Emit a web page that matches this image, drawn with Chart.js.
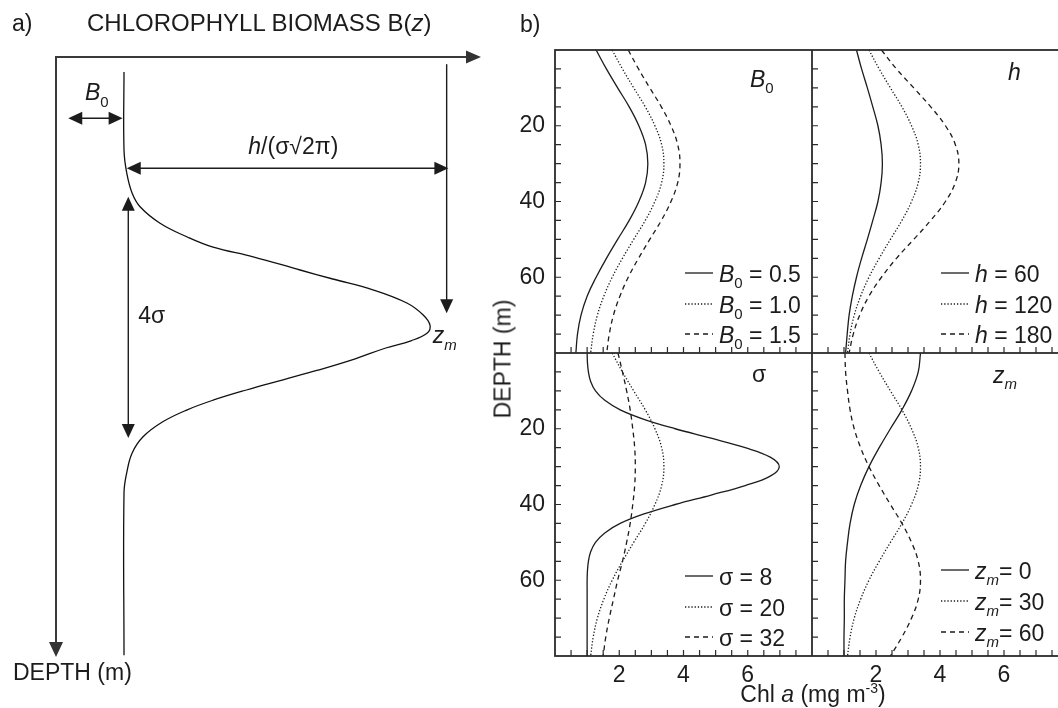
<!DOCTYPE html>
<html>
<head>
<meta charset="utf-8">
<script src="https://cdn.jsdelivr.net/npm/chart.js@4.4.1/dist/chart.umd.min.js"></script>
<style>
  body { margin: 0; background: #fff; }
  #page { position: relative; width: 1058px; height: 708px; overflow: hidden;
          font-family: "Liberation Sans", Arial, Helvetica, sans-serif; color: #1c1c1c; }
  canvas { position: absolute; }
  .lbl { position: absolute; font-size: 23px; line-height: 23px; white-space: nowrap; }
  .lbl sup { font-size: 14px; line-height: 0; vertical-align: 9px; }
</style>
</head>
<body>
<div id="page">
  <canvas id="sketch" width="490" height="708" style="left:0;top:0"></canvas>
  <canvas id="panelB0" width="317" height="313" style="left:495px;top:40px"></canvas>
  <canvas id="panelH" width="256" height="313" style="left:812px;top:40px"></canvas>
  <canvas id="panelSigma" width="317" height="353" style="left:495px;top:353px"></canvas>
  <canvas id="panelZm" width="256" height="353" style="left:812px;top:353px"></canvas>

  <div class="lbl" style="left:12px;top:12px">a)</div>
  <div class="lbl" style="left:87px;top:11px;font-size:24px">CHLOROPHYLL BIOMASS B(<i>z</i>)</div>
  <div class="lbl" style="left:13px;top:661px">DEPTH (m)</div>
  <div class="lbl" style="left:520px;top:13px">b)</div>
  <div class="lbl" style="left:503px;top:359px;transform:translate(-50%,-50%) rotate(-90deg)">DEPTH (m)</div>
  <div class="lbl" style="left:813px;top:683px;transform:translateX(-50%)">Chl <i>a</i> (mg m<sup>-3</sup>)</div>
</div>

<script>
const FONT = '"Liberation Sans", Arial, Helvetica, sans-serif';
const INK = '#1c1c1c';

// depth grid (m); the narrow sigma = 8 peak needs a finer one
const depths = [0, 5, 10, 15, 20, 25, 30, 35, 40, 45, 50, 55, 60, 65, 70, 75, 80];
const depthsFine = [0, 2.5, 5, 7.5, 10, 12.5, 15, 17.5, 20, 22.5, 25, 27.5, 30, 32.5, 35, 37.5, 40,
  42.5, 45, 47.5, 50, 52.5, 55, 57.5, 60, 62.5, 65, 67.5, 70, 72.5, 75, 77.5, 80];

// Chl a profiles (mg m-3) along the depth grid
// reference profile: B0 = 1.0, h = 120, sigma = 20, zm = 30
const chlBase = [1.78, 2.10, 2.45, 2.81, 3.11, 3.32, 3.39, 3.32, 3.11, 2.81, 2.45, 2.10, 1.78, 1.52, 1.32, 1.19, 1.11];
const chlB0Low = [1.28, 1.60, 1.95, 2.31, 2.61, 2.82, 2.89, 2.82, 2.61, 2.31, 1.95, 1.60, 1.28, 1.00, 0.81, 0.70, 0.65];
const chlB0High = [2.28, 2.60, 2.95, 3.31, 3.61, 3.82, 3.89, 3.82, 3.61, 3.31, 2.95, 2.60, 2.28, 2.02, 1.82, 1.69, 1.61];
const chlHLow = [1.39, 1.55, 1.73, 1.90, 2.06, 2.16, 2.20, 2.16, 2.06, 1.90, 1.73, 1.55, 1.39, 1.26, 1.16, 1.10, 1.05];
const chlHHigh = [2.17, 2.64, 3.18, 3.71, 4.17, 4.48, 4.59, 4.48, 4.17, 3.71, 3.18, 2.64, 2.17, 1.78, 1.49, 1.29, 1.16];
const chlSigmaNarrow = [1.00, 1.01, 1.04, 1.11, 1.26, 1.55, 2.03, 2.77, 3.74, 4.86, 5.92, 6.70, 6.98, 6.70, 5.92, 4.86, 3.74,
  2.77, 2.03, 1.55, 1.26, 1.11, 1.04, 1.01, 1.00, 1.00, 1.00, 1.00, 1.00, 1.00, 1.00, 1.00, 1.00];
const chlSigmaWide = [1.96, 2.10, 2.23, 2.34, 2.42, 2.48, 2.50, 2.48, 2.42, 2.34, 2.23, 2.10, 1.95, 1.82, 1.69, 1.58, 1.50];
const chlZmTop = [3.39, 3.32, 3.11, 2.81, 2.45, 2.10, 1.78, 1.52, 1.32, 1.19, 1.11, 1.05, 1.03, 1.01, 1.01, 1.00, 1.00];
const chlZmDeep = [1.03, 1.05, 1.11, 1.19, 1.32, 1.52, 1.78, 2.10, 2.45, 2.81, 3.11, 3.32, 3.39, 3.32, 3.11, 2.81, 2.45];

const b0Labels = ['0.5', '1.0', '1.5'];
const hLabels = ['60', '120', '180'];
const sigmaLabels = ['8', '20', '32'];
const zmLabels = ['0', '30', '60'];

const chlTicks = [2, 4, 6];
const depthTicks = [20, 40, 60];

// schematic profile for panel a (arbitrary biomass / depth units)
const sketchDepth = [2.5, 15.5, 19.3, 22.7, 25, 27.7, 30, 31.7, 33.3, 35.5, 37, 38.8, 41, 43, 44.7, 46, 47.3,
  48.5, 50.3, 52.2, 53.8, 55.5, 57.2, 58.8, 60.8, 63.3, 66, 69.3, 72.7, 99.7];
const sketchBiomass = [1, 1, 1.04, 1.12, 1.24, 1.53, 1.93, 2.31, 2.90, 3.59, 4.07, 4.66, 5.16, 5.40, 5.50, 5.46, 5.22,
  4.85, 4.40, 3.85, 3.34, 2.80, 2.31, 1.93, 1.57, 1.28, 1.12, 1.04, 1, 1];

const dashes = [[], [1.3, 1.9], [5, 4]];

// text with italic and subscript runs
function drawRich(ctx, parts, x, y, size, align) {
  const fontFor = p => `${p.i ? 'italic ' : ''}${p.sub ? Math.round(size * 0.66) : size}px ${FONT}`;
  let w = 0;
  parts.forEach(p => { ctx.font = fontFor(p); w += ctx.measureText(p.t).width; });
  let cx = align === 'center' ? x - w / 2 : x;
  ctx.textAlign = 'left';
  ctx.textBaseline = 'alphabetic';
  ctx.fillStyle = INK;
  parts.forEach(p => {
    ctx.font = fontFor(p);
    ctx.fillText(p.t, cx, y + (p.sub ? size * 0.28 : 0));
    cx += ctx.measureText(p.t).width;
  });
}

function head(ctx, tx, ty, ux, uy, len, half) {
  const bx = tx - ux * len, by = ty - uy * len;
  ctx.beginPath();
  ctx.moveTo(tx, ty);
  ctx.lineTo(bx - uy * half, by + ux * half);
  ctx.lineTo(bx + uy * half, by - ux * half);
  ctx.closePath();
  ctx.fill();
}

function arrow(ctx, x1, y1, x2, y2, both) {
  const L = Math.hypot(x2 - x1, y2 - y1), ux = (x2 - x1) / L, uy = (y2 - y1) / L;
  ctx.beginPath();
  ctx.moveTo(both ? x1 + ux * 8 : x1, both ? y1 + uy * 8 : y1);
  ctx.lineTo(x2 - ux * 8, y2 - uy * 8);
  ctx.stroke();
  head(ctx, x2, y2, ux, uy, 14, 6.5);
  if (both) head(ctx, x1, y1, -ux, -uy, 14, 6.5);
}

// axes, dimension arrows and labels of the schematic
const sketchMarks = {
  id: 'sketchMarks',
  afterDraw(chart) {
    const { ctx, chartArea: a, scales: { x, y } } = chart;
    const px = v => x.getPixelForValue(v), py = v => y.getPixelForValue(v);
    ctx.save();
    ctx.fillStyle = '#333';
    ctx.strokeStyle = '#3a3a3a';
    ctx.lineWidth = 2;
    ctx.beginPath();
    ctx.moveTo(a.right - 12, a.top);
    ctx.lineTo(a.left, a.top);
    ctx.lineTo(a.left, a.bottom - 12);
    ctx.stroke();
    head(ctx, a.right, a.top, 1, 0, 15, 6.5);
    head(ctx, a.left, a.bottom, 0, 1, 15, 7);

    ctx.fillStyle = INK;
    ctx.strokeStyle = INK;
    ctx.lineWidth = 1.4;
    arrow(ctx, px(0.18), py(10.2), px(0.98), py(10.2), true);
    arrow(ctx, px(1.04), py(18.55), px(5.77), py(18.55), true);
    arrow(ctx, px(5.745), py(1.2), px(5.745), py(42.7), false);
    arrow(ctx, px(1.063), py(23.3), px(1.063), py(63.5), true);

    drawRich(ctx, [{ t: 'B', i: 1 }, { t: '0', sub: 1 }], px(0.6), py(7.2), 23, 'center');
    drawRich(ctx, [{ t: 'h', i: 1 }, { t: '/(σ√2π)' }], px(3.49), py(16.2), 23, 'center');
    drawRich(ctx, [{ t: 'z', i: 1 }, { t: 'm', i: 1, sub: 1 }], px(5.54), py(47.7), 23);
    drawRich(ctx, [{ t: '4σ' }], px(1.21), py(44.3), 23);
    ctx.restore();
  }
};

new Chart(document.getElementById('sketch'), {
  type: 'line',
  data: {
    datasets: [{
      data: sketchBiomass.map((b, i) => ({ x: b, y: sketchDepth[i] })),
      borderColor: '#111', borderWidth: 1.3, pointRadius: 0, tension: 0.4, fill: false
    }]
  },
  options: {
    responsive: false, animation: false, devicePixelRatio: 1, indexAxis: 'y', events: [],
    layout: { padding: { left: 56, top: 57, right: 9, bottom: 51 } },
    plugins: { legend: { display: false }, tooltip: { enabled: false } },
    scales: {
      x: { type: 'linear', min: 0, max: 6.25, display: false },
      y: { type: 'linear', min: 0, max: 100, reverse: true, display: false }
    }
  },
  plugins: [sketchMarks]
});

// frame, inward minor ticks, panel label and legend of each profile panel
const panelMarks = {
  id: 'panelMarks',
  afterDraw(chart, args, opts) {
    const { ctx, chartArea: a, scales: { x, y } } = chart;
    ctx.save();
    ctx.strokeStyle = '#2b2b2b';
    ctx.lineWidth = 1.8;
    ctx.strokeRect(a.left, a.top, a.right - a.left, a.bottom - a.top);
    ctx.lineWidth = 1.2;
    ctx.beginPath();
    for (let d = 5; d < 80; d += 5) {
      const p = y.getPixelForValue(d);
      ctx.moveTo(a.left, p); ctx.lineTo(a.left + 6, p);
    }
    for (let c = 0.5; c < 8; c += 0.5) {
      const p = x.getPixelForValue(c);
      ctx.moveTo(p, a.bottom); ctx.lineTo(p, a.bottom - 6);
    }
    ctx.stroke();

    drawRich(ctx, opts.label, a.left + opts.labelAt[0], a.top + opts.labelAt[1], 23);

    opts.legend.forEach((parts, i) => {
      const ly = a.bottom + opts.rows[i];
      ctx.strokeStyle = INK;
      ctx.lineWidth = 1.3;
      ctx.setLineDash(dashes[i]);
      ctx.beginPath();
      ctx.moveTo(a.right - 127, ly); ctx.lineTo(a.right - 99, ly);
      ctx.stroke();
      ctx.setLineDash([]);
      drawRich(ctx, parts, a.right - 93, ly + 8.5, 23);
    });
    ctx.restore();
  }
};

// fixed axis sizes so the four frames line up; no extra edge padding from tick labels
function fixAxis(size, shown) {
  return s => {
    if (s.isHorizontal()) s.height = shown ? size : 0;
    else s.width = shown ? size : 0;
    s.paddingTop = 0; s.paddingBottom = 0; s.paddingLeft = 0; s.paddingRight = 0;
  };
}

function profilePanel(id, series, cfg) {
  const tickFont = { family: FONT, size: 23 };
  return new Chart(document.getElementById(id), {
    type: 'line',
    data: {
      datasets: series.map((s, i) => ({
        data: s.chl.map((c, k) => ({ x: c, y: s.depth[k] })),
        borderColor: INK, borderWidth: 1.3, borderDash: dashes[i],
        pointRadius: 0, tension: 0.4, fill: false
      }))
    },
    options: {
      responsive: false, animation: false, devicePixelRatio: 1, indexAxis: 'y', events: [],
      layout: { padding: { top: cfg.topPad, left: 0, right: 0, bottom: 0 } },
      plugins: {
        legend: { display: false }, tooltip: { enabled: false },
        panelMarks: { label: cfg.label, labelAt: cfg.labelAt, legend: cfg.legend, rows: cfg.rows || [-80, -49, -19] }
      },
      scales: {
        x: {
          type: 'linear', min: 0, max: 8, position: 'bottom', display: cfg.showChl,
          grid: { display: false, drawTicks: false }, border: { display: false },
          ticks: { stepSize: 2, padding: 6, font: tickFont, color: INK,
                   callback: v => chlTicks.includes(v) ? v : null },
          afterFit: fixAxis(50, cfg.showChl)
        },
        y: {
          type: 'linear', min: 0, max: 80, reverse: true, position: 'left', display: cfg.showDepth,
          grid: { display: false, drawTicks: false }, border: { display: false },
          ticks: { stepSize: 20, padding: 10, font: tickFont, color: INK,
                   callback: v => depthTicks.includes(v) ? v : null },
          afterFit: fixAxis(60, cfg.showDepth)
        }
      }
    },
    plugins: [panelMarks]
  });
}

profilePanel('panelB0', [
  { depth: depths, chl: chlB0Low },
  { depth: depths, chl: chlBase },
  { depth: depths, chl: chlB0High }
], {
  topPad: 10, showDepth: true, showChl: false,
  label: [{ t: 'B', i: 1 }, { t: '0', sub: 1 }], labelAt: [195, 37],
  legend: b0Labels.map(v => [{ t: 'B', i: 1 }, { t: '0', sub: 1 }, { t: ' = ' + v }])
});

profilePanel('panelH', [
  { depth: depths, chl: chlHLow },
  { depth: depths, chl: chlBase },
  { depth: depths, chl: chlHHigh }
], {
  topPad: 10, showDepth: false, showChl: false,
  label: [{ t: 'h', i: 1 }], labelAt: [196, 30],
  legend: hLabels.map(v => [{ t: 'h', i: 1 }, { t: ' = ' + v }])
});

profilePanel('panelSigma', [
  { depth: depthsFine, chl: chlSigmaNarrow },
  { depth: depths, chl: chlBase },
  { depth: depths, chl: chlSigmaWide }
], {
  topPad: 0, showDepth: true, showChl: true,
  label: [{ t: 'σ' }], labelAt: [197, 29],
  legend: sigmaLabels.map(v => [{ t: 'σ = ' + v }])
});

profilePanel('panelZm', [
  { depth: depths, chl: chlZmTop },
  { depth: depths, chl: chlBase },
  { depth: depths, chl: chlZmDeep }
], {
  topPad: 0, showDepth: false, showChl: true,
  label: [{ t: 'z', i: 1 }, { t: 'm', i: 1, sub: 1 }], labelAt: [181, 30],
  legend: zmLabels.map(v => [{ t: 'z', i: 1 }, { t: 'm', i: 1, sub: 1 }, { t: '= ' + v }]),
  rows: [-86, -55, -24]
});
</script>
</body>
</html>
